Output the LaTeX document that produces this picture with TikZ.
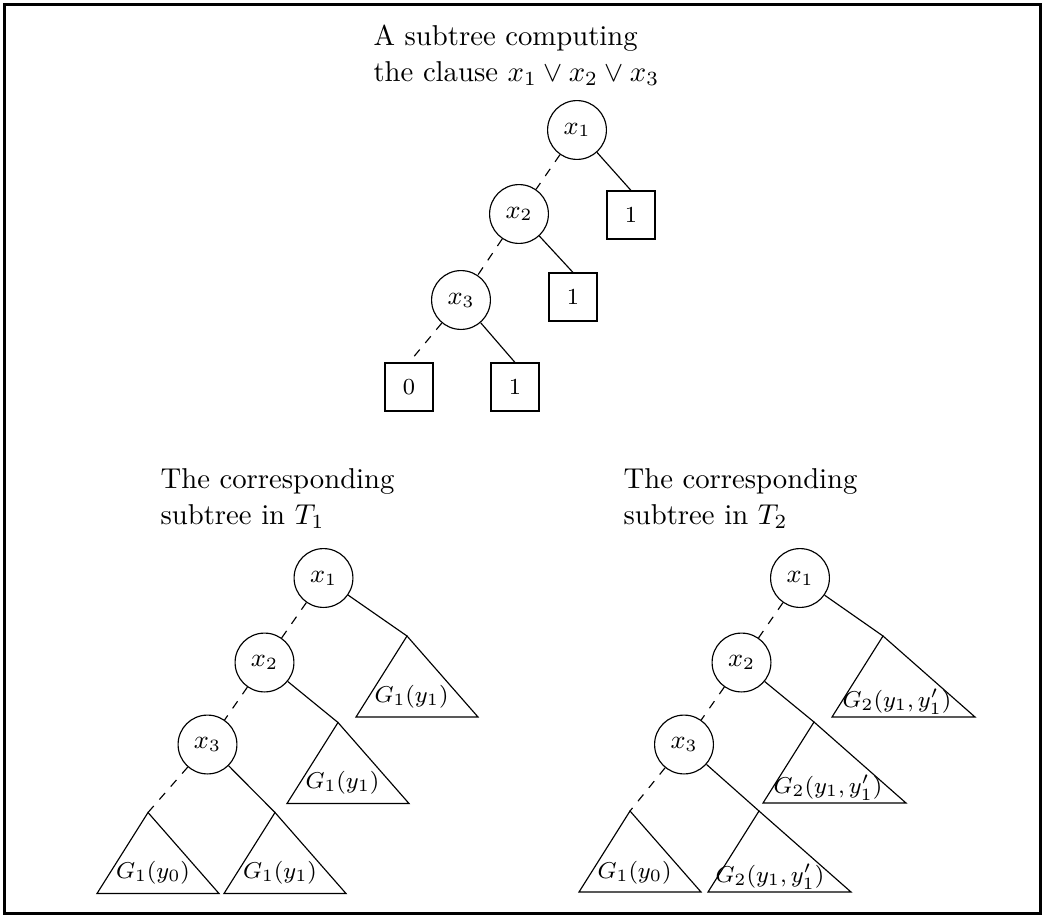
\documentclass[tikz,border=0pt]{standalone}
\begin{document}
\begin{tikzpicture}[x=0.3484pt,y=-0.3484pt,
  var/.style={draw,circle,minimum size=20.5pt,inner sep=0pt,font=\small},
  leaf/.style={draw,rectangle,minimum size=16.7pt,inner sep=0pt,font=\footnotesize},
  title/.style={anchor=base west,inner sep=0pt,font=\normalsize},
  tlab/.style={anchor=base,inner sep=0pt,font=\footnotesize},
  negedge/.style={dashed},
  posedge/.style={solid}]
\useasboundingbox (0,0) rectangle (1045,918);
\draw[line width=1.05pt] (4.5,4.5) rectangle (1040.5,913.5);

% ---------- top tree ----------
\node[title] (ta) at (373,45) {A subtree computing};
\node[title] (tb) at (373,81) {the clause $x_1\vee x_2\vee x_3$};
\node[var] (a1) at (577,130) {$x_1$};
\node[var] (a2) at (519,214) {$x_2$};
\node[var] (a3) at (461,300) {$x_3$};
\node[leaf] (l1) at (631,215) {1};
\node[leaf] (l2) at (573,297) {1};
\node[leaf] (l3) at (409,387) {0};
\node[leaf] (l4) at (515,387) {1};
\draw[negedge] (a1) -- (a2);
\draw[posedge] (a1) -- (l1.north);
\draw[negedge] (a2) -- (a3);
\draw[posedge] (a2) -- (l2.north);
\draw[negedge] (a3) -- (l3.north);
\draw[posedge] (a3) -- (l4.north);

% ---------- T1 ----------
\node[title] (pa) at (160,488) {The corresponding};
\node[title] (pb) at (160,524) {subtree in $T_1$};
\node[var] (b1) at (323.5,578) {$x_1$};
\node[var] (b2) at (264.5,662.5) {$x_2$};
\node[var] (b3) at (207.5,744.5) {$x_3$};
\coordinate (s1) at (407,636);
\coordinate (s2) at (338,722.5);
\coordinate (s3) at (148,812.5);
\coordinate (s4) at (275,812.5);
\foreach \s in {s1,s2,s3,s4}{
  \draw (\s) -- ++(-51,81) -- ++(122,0) -- cycle;}
\node[tlab] (g1) at ([shift={(4.5,66)}]s1) {$G_1(y_1)$};
\node[tlab] (g2) at ([shift={(4.5,66)}]s2) {$G_1(y_1)$};
\node[tlab] (g3) at ([shift={(5,66)}]s3) {$G_1(y_0)$};
\node[tlab] (g4) at ([shift={(5,66)}]s4) {$G_1(y_1)$};
\draw[negedge] (b1) -- (b2);
\draw[posedge] (b1) -- (s1);
\draw[negedge] (b2) -- (b3);
\draw[posedge] (b2) -- (s2);
\draw[negedge] (b3) -- (s3);
\draw[posedge] (b3) -- (s4);

% ---------- T2 ----------
\node[title] (qa) at (623,488) {The corresponding};
\node[title] (qb) at (623,524) {subtree in $T_2$};
\node[var] (c1) at (800,578) {$x_1$};
\node[var] (c2) at (741.5,662.5) {$x_2$};
\node[var] (c3) at (684,744.5) {$x_3$};
\coordinate (u1) at (883,636);
\coordinate (u2) at (814,722);
\coordinate (u3) at (630,811);
\coordinate (u4) at (759,811);
\foreach \s in {u1,u2,u4}{
  \draw (\s) -- ++(-51,81) -- ++(143,0) -- cycle;}
\draw (u3) -- ++(-51,81) -- ++(122,0) -- cycle;
\node[tlab] (h1) at ([shift={(14,71)}]u1) {$G_2(y_1,y_1')$};
\node[tlab] (h2) at ([shift={(14,71)}]u2) {$G_2(y_1,y_1')$};
\node[tlab] (h3) at ([shift={(4.5,67)}]u3) {$G_1(y_0)$};
\node[tlab] (h4) at ([shift={(11,71)}]u4) {$G_2(y_1,y_1')$};
\draw[negedge] (c1) -- (c2);
\draw[posedge] (c1) -- (u1);
\draw[negedge] (c2) -- (c3);
\draw[posedge] (c2) -- (u2);
\draw[negedge] (c3) -- (u3);
\draw[posedge] (c3) -- (u4);
\end{tikzpicture}
\end{document}
